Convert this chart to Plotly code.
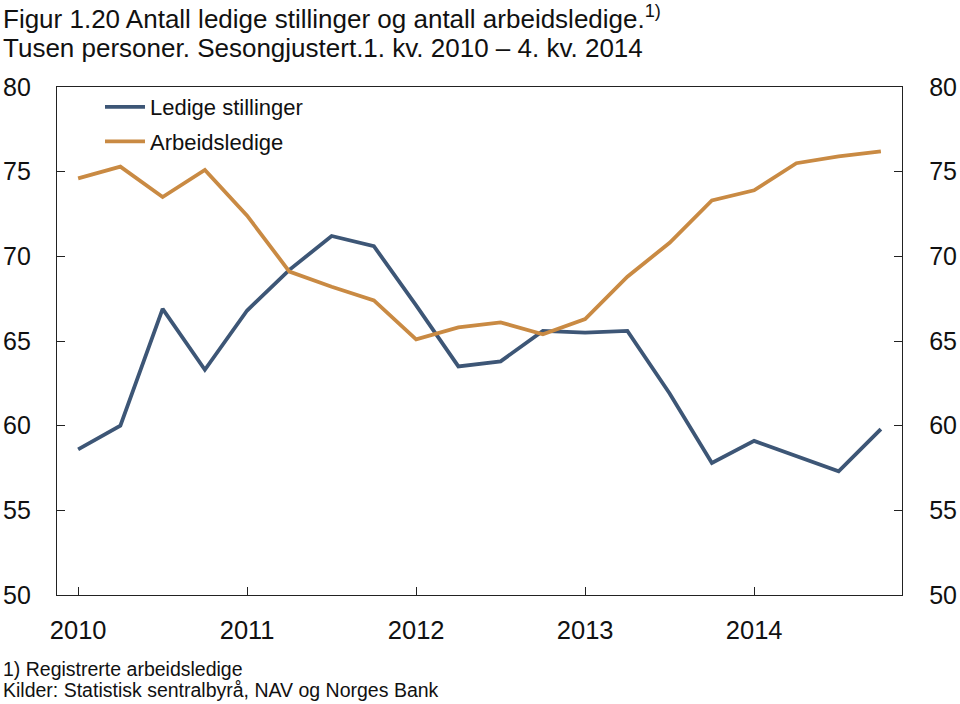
import plotly.graph_objects as go

quarters = ["2010K1", "2010K2", "2010K3", "2010K4",
            "2011K1", "2011K2", "2011K3", "2011K4",
            "2012K1", "2012K2", "2012K3", "2012K4",
            "2013K1", "2013K2", "2013K3", "2013K4",
            "2014K1", "2014K2", "2014K3", "2014K4"]
ledige_stillinger = [58.6, 60.0, 66.9, 63.3, 66.8, 69.2, 71.2, 70.6,
                     67.1, 63.5, 63.8, 65.6, 65.5, 65.6, 61.9, 57.8,
                     59.1, 58.2, 57.3, 59.8]
arbeidsledige = [74.6, 75.3, 73.5, 75.1, 72.4, 69.1, 68.2, 67.4,
                 65.1, 65.8, 66.1, 65.4, 66.3, 68.8, 70.8, 73.3,
                 73.9, 75.5, 75.9, 76.2]
year_ticks = ["2010", "2011", "2012", "2013", "2014"]
y_ticks = [50, 55, 60, 65, 70, 75, 80]

x_idx = list(range(len(quarters)))
tick_pos = [quarters.index(y + "K1") for y in year_ticks]

BLUE = "#3d5676"
ORANGE = "#c98a43"
FONT = "Liberation Sans, Arial, sans-serif"
AX = "#222222"
TXT = "#111111"

fig = go.Figure()
fig.add_trace(go.Scatter(x=x_idx, y=ledige_stillinger, mode="lines",
                         name="Ledige stillinger", legendgroup="a",
                         line=dict(color=BLUE, width=3.8)))
fig.add_trace(go.Scatter(x=x_idx, y=arbeidsledige, mode="lines",
                         name="Arbeidsledige", legendgroup="b",
                         line=dict(color=ORANGE, width=3.8)))
fig.add_trace(go.Scatter(x=[], y=[], yaxis="y2", showlegend=False,
                         hoverinfo="skip"))

W, H = 960, 704
L, T = 57, 87
R = W - 902
B = H - 595
pw = W - L - R
ph = H - T - B

yax = dict(range=[50, 80], tickvals=y_ticks, ticks="inside", ticklen=8,
           tickcolor=AX, showline=True, linecolor=AX, linewidth=1.3,
           showgrid=False, zeroline=False, automargin=False,
           tickfont=dict(size=25, family=FONT, color=TXT),
           ticklabelstandoff=20)

fig.update_layout(
    width=W, height=H,
    margin=dict(l=L, r=R, t=T, b=B, autoexpand=False),
    paper_bgcolor="white", plot_bgcolor="white",
    font=dict(family=FONT, color=TXT),
    showlegend=True,
    legend=dict(x=(100 - 57) / pw, y=1 + 1 / ph, xanchor="left", yanchor="top",
                font=dict(size=22, family=FONT, color=TXT),
                bgcolor="rgba(0,0,0,0)", tracegroupgap=3,
                itemwidth=40),
    xaxis=dict(range=[-0.5, 19.5], tickvals=tick_pos, ticktext=year_ticks,
               ticks="inside", ticklen=8, tickcolor=AX, tickwidth=1,
               showline=True, linecolor=AX, linewidth=1.3, mirror=True,
               showgrid=False, zeroline=False, automargin=False,
               tickfont=dict(size=25.5, family=FONT, color=TXT),
               ticklabelstandoff=12),
    yaxis=yax,
    yaxis2=dict(yax, overlaying="y", side="right", anchor="x",
                ticklabelstandoff=21),
)

# (text, screen y of text centre, font size)
annots = [
    ("Figur 1.20 Antall ledige stillinger og antall arbeidsledige.<sup>1)</sup>", 17.5, 26),
    ("Tusen personer. Sesongjustert.1. kv. 2010 \u2013 4. kv. 2014", 48, 26),
    ("1) Registrerte arbeidsledige", 669, 19.5),
    ("Kilder: Statistisk sentralbyr\u00e5, NAV og Norges Bank", 690, 19.5),
]
for text, sy, size in annots:
    fig.add_annotation(text=text, xref="paper", yref="paper",
                       x=-(L - 2) / pw, y=1 - (sy - T) / ph,
                       xanchor="left", yanchor="middle",
                       showarrow=False, align="left", borderpad=0,
                       font=dict(size=size, family=FONT, color=TXT))

fig.write_html("out.html",
               config={"displayModeBar": False},
               post_script="document.body.style.margin='0';"
                           "document.body.style.overflow='hidden';")
